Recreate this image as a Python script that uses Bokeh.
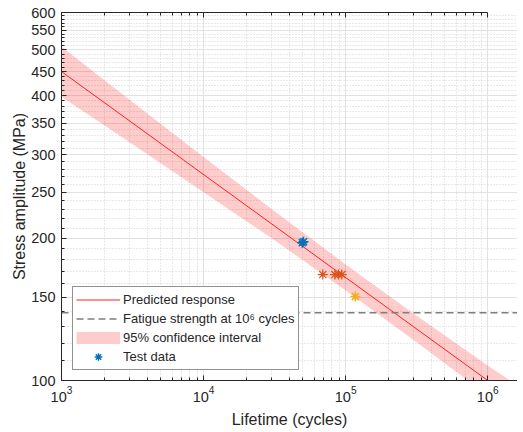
from bokeh.plotting import figure
from bokeh.models import (FixedTicker, LogAxis, PrintfTickFormatter, Legend,
                          LegendItem, Range1d, CustomJSTickFormatter)
from bokeh.embed import file_html
from bokeh.resources import INLINE

# ---------------- data ----------------
# Predicted response (straight line in log-log space)
pred_N = [1e3, 1e6]
pred_S = [450, 100]

# 95% confidence interval of the prediction
band_N = [1e3, 3.16e3, 1e4, 3.16e4, 1e5, 3.16e5, 1e6, 2e6]
band_upper = [508, 388, 297, 228, 176, 137, 107.6, 93.4]
band_lower = [398, 316, 250, 198, 155, 120.4, 93.0, 79.2]

# Fatigue strength at 10^6 cycles
fatigue_strength = 139

# Test data (three groups, only the first one in the legend)
blue_N = [4.95e4, 5.05e4]
blue_S = [195.5, 196.5]
orange_N = [6.9e4, 8.4e4, 8.9e4, 9.4e4]
orange_S = [167.5, 167.5, 167.5, 167.5]
yellow_N = [1.17e5]
yellow_S = [150.5]

# axes
x_lim = (1e3, 1.62e6)
y_lim = (100, 600)
x_major = [1e3, 1e4, 1e5, 1e6]
x_minor = [k * 10 ** e for e in range(3, 7) for k in range(2, 10)]
y_major = [100, 150, 200, 250, 300, 350, 400, 450, 500, 550, 600]
y_minor = [v for v in range(110, 600, 10) if v % 50 != 0]

FONT = "Liberation Sans"
DARK = "#262626"
BAND = "#ffcccc"
NAN = float("nan")

p = figure(frame_width=456, frame_height=368,
           x_axis_type="log", y_axis_type="log",
           x_range=Range1d(*x_lim), y_range=Range1d(*y_lim),
           output_backend="svg", toolbar_location=None,
           min_border_left=61, min_border_right=0,
           min_border_top=12, min_border_bottom=0)
p.outline_line_color = None
p.background_fill_color = "white"
p.border_fill_color = "white"

xticker = FixedTicker(ticks=x_major, minor_ticks=x_minor)
yticker = FixedTicker(ticks=y_major, minor_ticks=y_minor)

for ax in (p.xaxis[0], p.yaxis[0]):
    ax.axis_line_color = DARK
    ax.major_tick_line_color = DARK
    ax.minor_tick_line_color = DARK
    ax.major_tick_in = 5
    ax.major_tick_out = 0
    ax.minor_tick_in = 3
    ax.minor_tick_out = 0
    ax.major_label_text_font = FONT
    ax.major_label_text_font_size = "14.5px"
    ax.major_label_text_color = DARK
    ax.axis_label_text_font = FONT
    ax.axis_label_text_font_size = "16px"
    ax.axis_label_text_font_style = "normal"
    ax.axis_label_text_color = DARK

p.xaxis[0].ticker = xticker
p.yaxis[0].ticker = yticker
p.yaxis[0].formatter = PrintfTickFormatter(format="%d")
p.xaxis[0].axis_label = "Lifetime (cycles)"
p.yaxis[0].axis_label = "Stress amplitude (MPa)"
p.xaxis[0].major_label_standoff = 5
p.xaxis[0].axis_label_standoff = 6
p.yaxis[0].major_label_standoff = 6
p.yaxis[0].axis_label_standoff = 0

top = LogAxis(ticker=xticker, bounds=(1e3, 1e6),
              formatter=CustomJSTickFormatter(code="return '';"),
              major_label_text_font_size="1px", major_label_standoff=0,
              axis_line_color=DARK, major_tick_line_color=DARK,
              minor_tick_line_color=DARK,
              major_tick_in=5, major_tick_out=0, minor_tick_in=3, minor_tick_out=0)
p.add_layout(top, "above")

for g, t in ((p.xgrid[0], xticker), (p.ygrid[0], yticker)):
    g.ticker = t
    g.grid_line_color = "#e2e2e2"
    g.grid_line_width = 1
    g.minor_grid_line_color = "#d2d2d2"
    g.minor_grid_line_dash = "1 2"
    g.minor_grid_line_width = 1

# confidence band polygon
poly_x = band_N + band_N[::-1]
poly_y = band_upper + band_lower[::-1]
p.patch(poly_x, poly_y, fill_color="red", fill_alpha=0.2, line_color=None)

line_r = p.line(pred_N, pred_S, line_color="#ff2020", line_width=1)

dash_r = p.line([x_lim[0], x_lim[1]], [fatigue_strength, fatigue_strength],
                line_color="#7f7f7f", line_width=1.5, line_dash="7 4")

blue_r = p.scatter(blue_N, blue_S, marker="asterisk", size=10,
                   line_color="#0072BD", line_width=1.4)
p.scatter(orange_N, orange_S, marker="asterisk", size=10,
          line_color="#D95319", line_width=1.2)
p.scatter(yellow_N, yellow_S, marker="asterisk", size=10,
          line_color="#EDB120", line_width=1.6)

# legend swatch for the band: a thick line that draws nothing in the plot
band_key = p.line(x=[NAN, NAN], y=[NAN, NAN], line_color=BAND,
                  line_width=12, line_cap="butt")

legend = Legend(items=[
    LegendItem(label="Predicted response", renderers=[line_r]),
    LegendItem(label="Fatigue strength at 10\u2076 cycles", renderers=[dash_r]),
    LegendItem(label="95% confidence interval", renderers=[band_key]),
    LegendItem(label="Test data", renderers=[blue_r]),
], location=(11, 10))
legend.label_text_font = FONT
legend.label_text_font_size = "13px"
legend.label_text_color = DARK
legend.glyph_width = 44
legend.glyph_height = 19
legend.label_height = 17
legend.label_standoff = 3
legend.spacing = 0
legend.padding = 3
legend.margin = 0
legend.border_line_color = DARK
legend.border_line_width = 0.8
legend.background_fill_color = "white"
legend.background_fill_alpha = 1
p.add_layout(legend)

open("out.html", "w").write(file_html(p, INLINE))
